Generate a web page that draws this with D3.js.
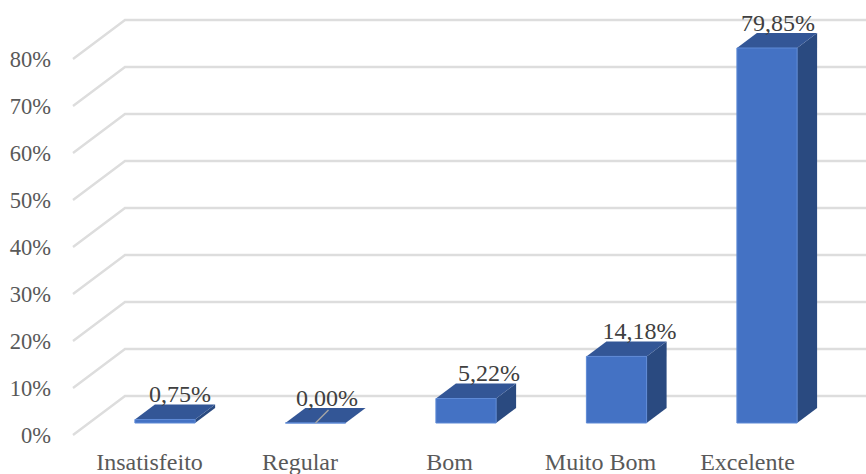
<!DOCTYPE html>
<html><head><meta charset="utf-8">
<script src="https://cdnjs.cloudflare.com/ajax/libs/d3/7.8.5/d3.min.js"></script>
<style>html,body{margin:0;padding:0;background:#fff}svg{display:block}text{font-family:"Liberation Serif",serif}</style>
</head><body><svg id="c" width="866" height="474"></svg>
<script>
const categories = ["Insatisfeito","Regular","Bom","Muito Bom","Excelente"];
const values = [0.75,0,5.22,14.18,79.85];
const valueLabels = ["0,75%","0,00%","5,22%","14,18%","79,85%"];
const ticks = [0,10,20,30,40,50,60,70,80];

const labelNudge = [15,11.5,23,23,11];
const categoryNudge = [-15.5,-15.5,-16.5,-16,-19.5];
const depth = {x:20,y:-15};
const svg = d3.select("#c");

const x = d3.scaleBand().domain(categories).range([89.75,842.25]).paddingInner(0.6).paddingOuter(0.3);
const yBack = d3.scaleLinear().domain([0,80]).range([396,20]);
const yFront = d3.scaleLinear().domain([0,80]).range([423,47.3]);
const wallX = 125, wallDx = -52, wallDy = 39;

const grid = svg.append("g").attr("stroke","#dddddd").attr("stroke-width",2.4).attr("fill","none");
grid.selectAll("path").data(ticks).join("path")
  .attr("d",t=>d3.line()([[wallX+wallDx,yBack(t)+wallDy],[wallX,yBack(t)],[866,yBack(t)]]));

svg.append("g").selectAll("text").data(ticks).join("text")
  .attr("x",51).attr("y",t=>yBack(t)+wallDy+7.5)
  .attr("text-anchor","end").attr("font-size",22.5).attr("fill","#595959")
  .text(t=>t+"%");

const bars = svg.append("g").selectAll("g").data(categories).join("g");
const L = c=>x(c), R = c=>x(c)+x.bandwidth();
const base = yFront(0);
bars.append("path").attr("fill","#2a4a80")
  .attr("d",(c,i)=>{const t=yFront(values[i]);return d3.line()([[R(c),t],[R(c)+depth.x,t+depth.y],[R(c)+depth.x,base+depth.y],[R(c),base]])+"Z";});
bars.append("path").attr("fill","#335696")
  .attr("d",(c,i)=>{const t=yFront(values[i]);return d3.line()([[L(c),t],[L(c)+depth.x,t+depth.y],[R(c)+depth.x,t+depth.y],[R(c),t]])+"Z";});
bars.append("rect").attr("fill","#4472c4")
  .attr("x",c=>L(c)).attr("width",x.bandwidth())
  .attr("y",(c,i)=>yFront(values[i])).attr("height",(c,i)=>base-yFront(values[i]));
bars.append("path").attr("fill","none").attr("stroke","#5f8ad6").attr("stroke-width",1)
  .attr("d",(c,i)=>{const t=yFront(values[i]);return d3.line()([[L(c),t],[L(c),base],[R(c),base],[R(c),t],[L(c),t]]);});
bars.filter((c,i)=>values[i]===0).append("line")
  .attr("stroke","#a6a6a6").attr("stroke-width",1.5)
  .attr("x1",c=>L(c)+x.bandwidth()/2).attr("y1",base)
  .attr("x2",c=>L(c)+x.bandwidth()/2+13).attr("y2",base-13);

svg.append("g").selectAll("text").data(categories).join("text")
  .attr("x",(c,i)=>x(c)+x.bandwidth()/2+categoryNudge[i]).attr("y",470)
  .attr("text-anchor","middle").attr("font-size",24).attr("fill","#595959")
  .text(c=>c);

svg.append("g").selectAll("text").data(categories).join("text")
  .attr("x",(c,i)=>x(c)+x.bandwidth()/2+labelNudge[i])
  .attr("y",(c,i)=>yFront(values[i])+depth.y-2.5)
  .attr("text-anchor","middle").attr("font-size",24).attr("fill","#404040")
  .text((c,i)=>valueLabels[i]);
</script></body></html>
